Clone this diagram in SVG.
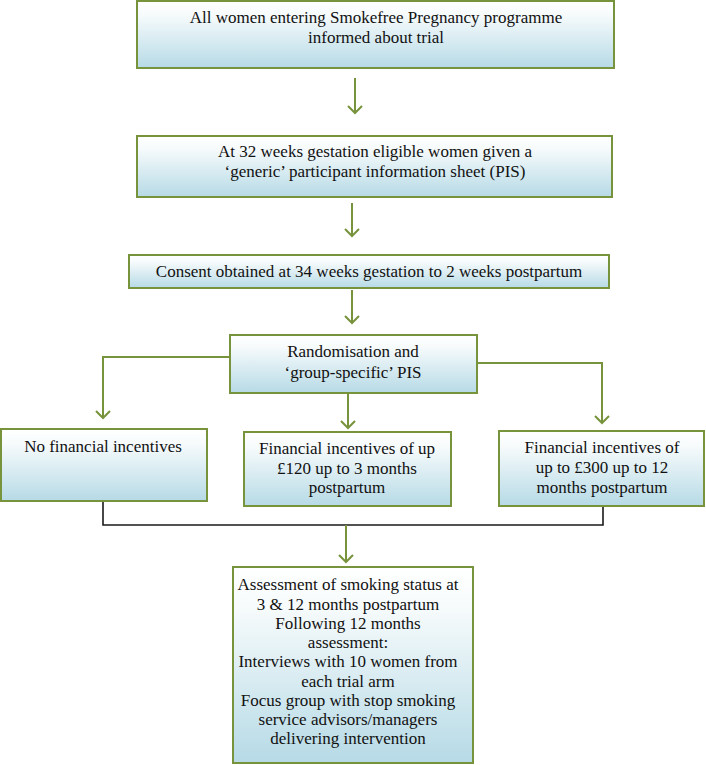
<svg xmlns="http://www.w3.org/2000/svg" width="706" height="765" viewBox="0 0 706 765">
<defs>
<linearGradient id="g" x1="0" y1="0" x2="0" y2="1">
<stop offset="0" stop-color="#ffffff"/>
<stop offset="0.2" stop-color="#f7fbfc"/>
<stop offset="1" stop-color="#b6dae6"/>
</linearGradient>
<marker id="ah" markerUnits="userSpaceOnUse" markerWidth="20" markerHeight="20" refX="16" refY="10" orient="auto" viewBox="0 0 20 20">
<path d="M9,3 L16,10 L9,17" fill="none" stroke="#77933c" stroke-width="2"/>
</marker>
<style>
.box{fill:url(#g);stroke:#77933c;stroke-width:2}
.t{font-size:17px;fill:#111;text-anchor:middle}
.ar{fill:none;stroke:#77933c;stroke-width:2;marker-end:url(#ah)}
.bl{fill:none;stroke:#1a1a1a;stroke-width:1.6}
</style>
</defs>
<g id="connectors">
<path class="ar" d="M355,78 V113"/>
<path class="ar" d="M352,203 V236"/>
<path class="ar" d="M352,290 V323"/>
<path class="ar" d="M230,357 H103 V418"/>
<path class="ar" d="M477,363 H602 V423"/>
<path class="ar" d="M348,393 V428"/>
<path class="bl" d="M103,501 V525 H603 V506"/>
<path class="ar" d="M346,525 V562"/>
</g>
<g font-family="Liberation Serif, Times New Roman, serif">
<g id="n1">
<rect class="box" x="137" y="1" width="477" height="67"/>
<text class="t" x="376" y="23">All women entering Smokefree Pregnancy programme</text>
<text class="t" x="376" y="43">informed about trial</text>
</g>
<g id="n2">
<rect class="box" x="137" y="136" width="475" height="61"/>
<text class="t" x="375" y="157">At 32 weeks gestation eligible women given a</text>
<text class="t" x="375" y="177">‘generic’ participant information sheet (PIS)</text>
</g>
<g id="n3">
<rect class="box" x="129" y="255" width="480" height="33"/>
<text class="t" x="369" y="277">Consent obtained at 34 weeks gestation to 2 weeks postpartum</text>
</g>
<g id="n4">
<rect class="box" x="230" y="335" width="247" height="58"/>
<text class="t" x="353" y="357">Randomisation and</text>
<text class="t" x="353" y="378">‘group-specific’ PIS</text>
</g>
<g id="n5">
<rect class="box" x="1" y="429" width="206" height="72"/>
<text class="t" x="103" y="452">No financial incentives</text>
</g>
<g id="n6">
<rect class="box" x="244" y="432" width="207" height="74"/>
<text class="t" x="347" y="454">Financial incentives of up</text>
<text class="t" x="347" y="474">£120 up to 3 months</text>
<text class="t" x="347" y="493">postpartum</text>
</g>
<g id="n7">
<rect class="box" x="499" y="431" width="205" height="75"/>
<text class="t" x="602" y="453">Financial incentives of</text>
<text class="t" x="602" y="473">up to £300 up to 12</text>
<text class="t" x="602" y="493">months postpartum</text>
</g>
<g id="n8">
<rect class="box" x="233" y="567" width="240" height="196"/>
<text class="t" x="348" y="590">Assessment of smoking status at</text>
<text class="t" x="348" y="610">3 &amp; 12 months postpartum</text>
<text class="t" x="348" y="629">Following 12 months</text>
<text class="t" x="348" y="648">assessment:</text>
<text class="t" x="348" y="667">Interviews with 10 women from</text>
<text class="t" x="348" y="687">each trial arm</text>
<text class="t" x="348" y="706">Focus group with stop smoking</text>
<text class="t" x="348" y="725">service advisors/managers</text>
<text class="t" x="348" y="744">delivering intervention</text>
</g>
</g>
</svg>
